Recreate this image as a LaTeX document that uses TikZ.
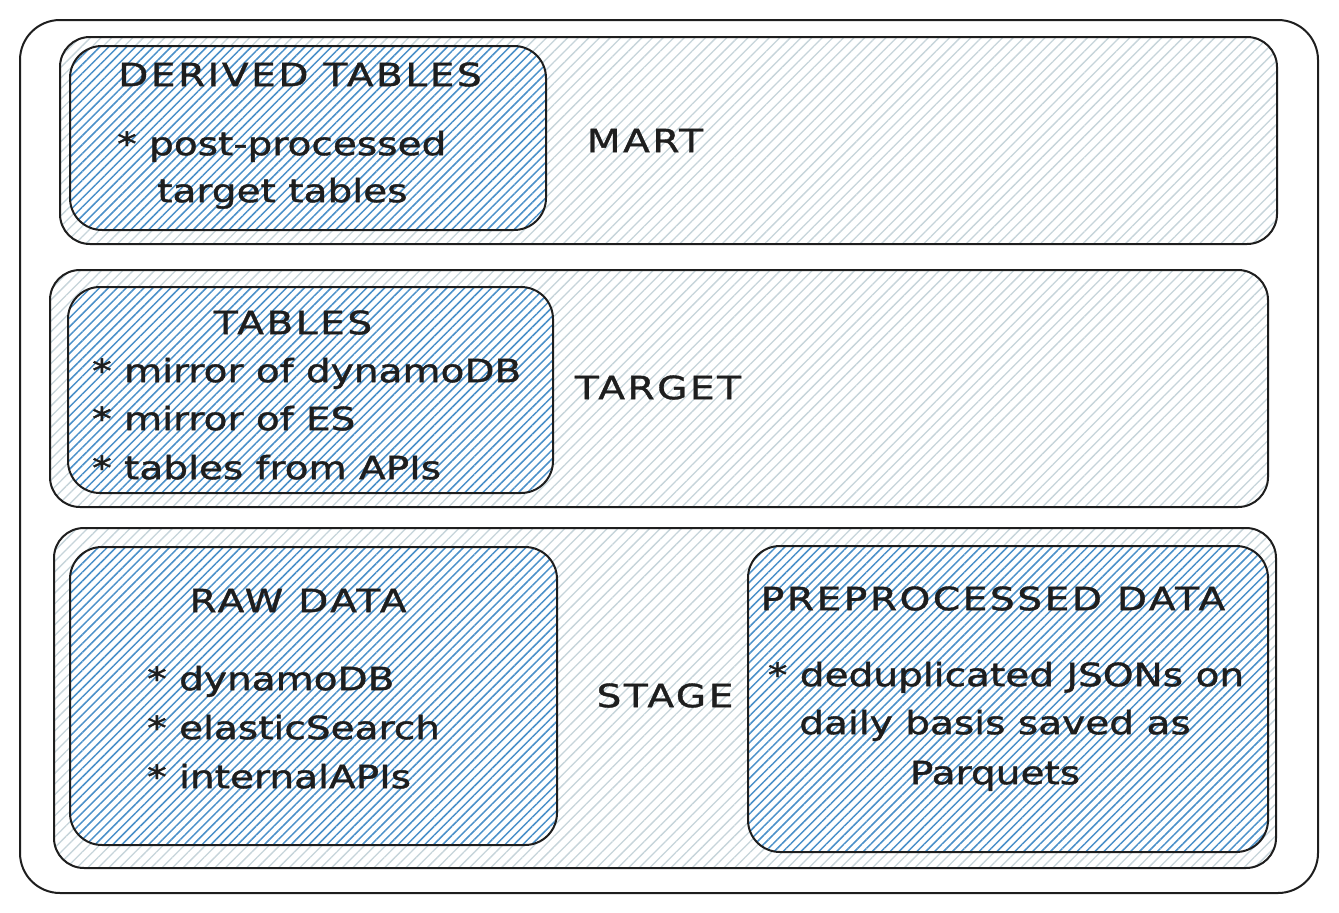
\documentclass[tikz,border=0pt]{standalone}
\usepackage{fontspec}
\newfontfamily\hand[FakeStretch=1.22,FakeBold=1.2]{DejaVu Sans}
\newfontfamily\handcaps[FakeStretch=1.22,FakeBold=1.2,LetterSpace=8]{DejaVu Sans}
\usetikzlibrary{patterns.meta}
\definecolor{ink}{HTML}{1E1E1E}
\definecolor{hatchgray}{HTML}{C6D4DA}
\definecolor{hatchblue}{HTML}{4A90C9}
\begin{document}
\begin{tikzpicture}[x=1pt,y=-1pt,
  frame/.style={draw=ink, line width=2pt, inner sep=0pt, outer sep=0pt},
  outerbox/.style={frame, rounded corners=40pt, fill=white},
  layer/.style={frame, rounded corners=30pt, pattern={Lines[angle=45,distance=7.5pt,line width=1.3pt]}, pattern color=hatchgray},
  inbox/.style={frame, rounded corners=32pt, preaction={fill=white}, pattern={Lines[angle=45,distance=6.3pt,line width=1.5pt]}, pattern color=hatchblue},
  txt/.style={font={\hand\fontsize{32}{48}\selectfont}, text=ink, inner sep=0pt},
  captxt/.style={font={\handcaps\fontsize{32}{48}\selectfont}, text=ink, inner sep=0pt},
]
\useasboundingbox (0,0) rectangle (1339,913);
% containers
\node[outerbox, minimum width=1298pt, minimum height=873pt] (outer) at (669,456.5) {};
\node[layer, minimum width=1217pt, minimum height=207pt] (mart) at (668.5,140.5) {};
\node[layer, minimum width=1218pt, minimum height=237pt] (target) at (659,388.5) {};
\node[layer, minimum width=1222pt, minimum height=340pt] (stage) at (665,698) {};
\node[inbox, minimum width=476pt, minimum height=184pt] (derived) at (308,138) {};
\node[inbox, minimum width=485pt, minimum height=206pt] (tables) at (310.5,390) {};
\node[inbox, minimum width=487pt, minimum height=298pt] (raw) at (313.5,696) {};
\node[inbox, minimum width=520pt, minimum height=306pt] (prep) at (1008,699) {};
% mart
\node[captxt, anchor=mid] (tDerived) at (300,84) {DERIVED TABLES};
\node[txt, anchor=mid west] (tPost) at (117,153) {* post-processed};
\node[txt, anchor=mid west] (tPost2) at (157,200) {target tables};
\node[captxt, anchor=mid] (tMart) at (645,150) {MART};
% target
\node[captxt, anchor=mid] (tTables) at (293,332) {TABLES};
\node[txt, anchor=mid west] (tT1) at (92,380) {* mirror of dynamoDB};
\node[txt, anchor=mid west] (tT2) at (92,428) {* mirror of ES};
\node[txt, anchor=mid west] (tT3) at (92,477) {* tables from APIs};
\node[captxt, anchor=mid] (tTarget) at (658,397) {TARGET};
% stage
\node[captxt, anchor=mid] (tRaw) at (298,610) {RAW DATA};
\node[txt, anchor=mid west] (tR1) at (147,688) {* dynamoDB};
\node[txt, anchor=mid west] (tR2) at (147,737) {* elasticSearch};
\node[txt, anchor=mid west] (tR3) at (147,786) {* internalAPIs};
\node[captxt, anchor=mid] (tStage) at (665,705) {STAGE};
\node[captxt, anchor=mid] (tPrep) at (993,608) {PREPROCESSED DATA};
\node[txt, anchor=mid] (tP1) at (1006,684) {* deduplicated JSONs on};
\node[txt, anchor=mid] (tP2) at (995,732) {daily basis saved as};
\node[txt, anchor=mid] (tP3) at (995,782) {Parquets};
\end{tikzpicture}
\end{document}
